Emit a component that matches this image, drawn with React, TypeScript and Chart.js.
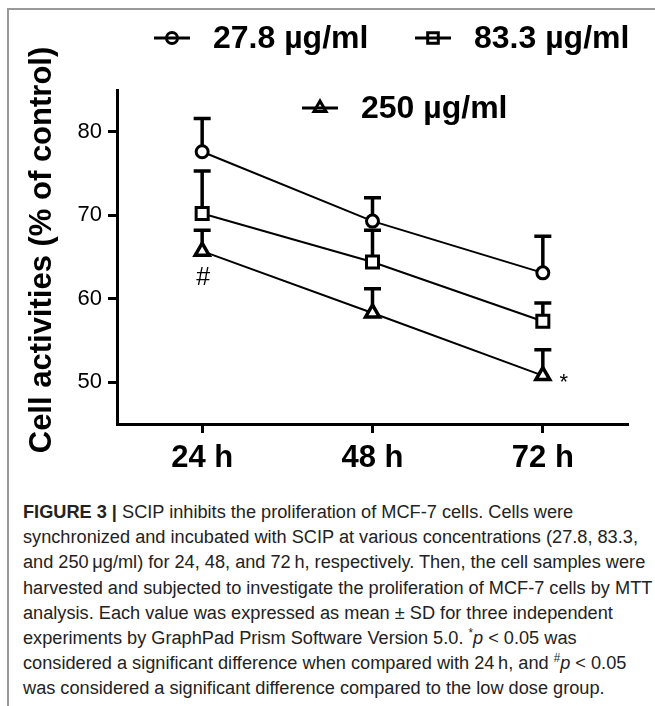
import React, { useEffect, useLayoutEffect, useRef } from "react";
import { Chart, registerables } from "chart.js";

Chart.register(...registerables);

// ---------- data ----------
const timeLabels = ["24 h", "48 h", "72 h"];
const seriesNames = ["27.8 µg/ml", "83.3 µg/ml", "250 µg/ml"];
const mean278 = [77.6, 69.3, 63.1];
const sd278 = [4.0, 2.8, 4.4];
const mean833 = [70.2, 64.4, 57.3];
const sd833 = [5.1, 3.8, 2.2];
const mean250 = [65.7, 58.3, 50.8];
const sd250 = [2.5, 2.9, 3.1];
const yTickValues = [50, 60, 70, 80];
const yMin = 45;
const yMax = 85;
const yAxisTitle = "Cell activities (% of control)";
const significanceMarks = [
  { series: 2, index: 0, text: "#" },
  { series: 2, index: 2, text: "*" },
];

const FONT = '"Liberation Sans", Arial, Helvetica, sans-serif';
const W = 655;
const H = 495;

const pointStyles = ["circle", "rect", "triangle"];
const pointRadii = [6, 8.5, 8];
const pointBorders = [3, 3, 3.5];

// legend layout (style, not data)
const legendLayout = [
  { cx: 172, cy: 38 },
  { cx: 433, cy: 38 },
  { cx: 320, cy: 108 },
];

function drawMarker(ctx: CanvasRenderingContext2D, style: string, x: number, y: number, r: number, bw: number) {
  ctx.save();
  ctx.lineWidth = bw;
  ctx.strokeStyle = "#000";
  ctx.fillStyle = "#fff";
  ctx.beginPath();
  if (style === "circle") {
    ctx.arc(x, y, r, 0, Math.PI * 2);
  } else if (style === "rect") {
    const s = r * Math.SQRT1_2;
    ctx.rect(x - s, y - s, 2 * s, 2 * s);
  } else {
    ctx.moveTo(x, y - r);
    ctx.lineTo(x + r * Math.sin((2 * Math.PI) / 3), y - r * Math.cos((2 * Math.PI) / 3));
    ctx.lineTo(x + r * Math.sin((4 * Math.PI) / 3), y - r * Math.cos((4 * Math.PI) / 3));
    ctx.closePath();
  }
  ctx.fill();
  ctx.stroke();
  ctx.restore();
}

const means = [mean278, mean833, mean250];
const sds = [sd278, sd833, sd250];

const decorPlugin = {
  id: "decor",
  beforeDatasetsDraw(chart: any) {
    const { ctx, scales } = chart;
    const xs = scales.x;
    const ys = scales.y;
    ctx.save();
    ctx.strokeStyle = "#000";
    ctx.lineWidth = 3.5;
    ctx.lineCap = "butt";
    means.forEach((m, si) => {
      m.forEach((v, i) => {
        const x = xs.getPixelForValue(i);
        const y0 = ys.getPixelForValue(v);
        const y1 = ys.getPixelForValue(v + sds[si][i]);
        ctx.beginPath();
        ctx.moveTo(x, y0);
        ctx.lineTo(x, y1);
        ctx.moveTo(x - 8.5, y1);
        ctx.lineTo(x + 8.5, y1);
        ctx.stroke();
      });
    });
    ctx.restore();
  },
  afterDraw(chart: any) {
    const { ctx, scales } = chart;
    const xs = scales.x;
    const ys = scales.y;
    ctx.save();
    // y-axis title
    ctx.translate(42, 250);
    ctx.rotate(-Math.PI / 2);
    ctx.fillStyle = "#000";
    ctx.font = `bold 31px ${FONT}`;
    ctx.textAlign = "center";
    ctx.textBaseline = "middle";
    ctx.fillText(yAxisTitle, 0, 0);
    ctx.restore();

    // legend
    ctx.save();
    legendLayout.forEach((p, si) => {
      drawMarker(ctx, pointStyles[si], p.cx, p.cy, si === 1 ? 7.5 : si === 2 ? 7 : 5.5, 3);
      ctx.strokeStyle = "#000";
      ctx.lineWidth = 3;
      ctx.beginPath();
      ctx.moveTo(p.cx - 18, p.cy);
      ctx.lineTo(p.cx + 18, p.cy);
      ctx.stroke();
      ctx.fillStyle = "#000";
      ctx.font = `bold 32px ${FONT}`;
      ctx.textAlign = "left";
      ctx.textBaseline = "middle";
      ctx.fillText(seriesNames[si], p.cx + 41, p.cy + 1);
    });
    ctx.restore();

    // significance marks
    ctx.save();
    ctx.fillStyle = "#000";
    significanceMarks.forEach((mk) => {
      const x = xs.getPixelForValue(mk.index);
      const y = ys.getPixelForValue(means[mk.series][mk.index]);
      ctx.textAlign = "center";
      ctx.textBaseline = "middle";
      if (mk.text === "#") {
        ctx.font = `25px ${FONT}`;
        ctx.fillText(mk.text, x + 1, y + 27);
      } else {
        ctx.font = `22px ${FONT}`;
        ctx.fillText(mk.text, x + 21, y + 7);
      }
    });
    ctx.restore();
  },
};

function ChartView() {
  const ref = useRef<HTMLCanvasElement | null>(null);
  useEffect(() => {
    if (!ref.current) return;
    const chart = new Chart(ref.current, {
      type: "line",
      data: {
        labels: timeLabels,
        datasets: means.map((m, si) => ({
          label: seriesNames[si],
          data: m,
          borderColor: "#000",
          borderWidth: 2,
          tension: 0,
          fill: false,
          pointStyle: pointStyles[si] as any,
          pointRadius: pointRadii[si],
          pointBorderWidth: pointBorders[si],
          pointBackgroundColor: "#fff",
          pointBorderColor: "#000",
        })),
      },
      options: {
        animation: false,
        responsive: false,
        devicePixelRatio: 1,
        layout: { padding: { top: 90, right: 27, left: 0, bottom: 0 } },
        plugins: { legend: { display: false }, tooltip: { enabled: false }, title: { display: false } },
        scales: {
          x: {
            type: "category",
            offset: true,
            grid: { display: true, drawOnChartArea: false, drawTicks: true, tickLength: 9, tickWidth: 3, tickColor: "#000" },
            border: { display: true, width: 3, color: "#000" },
            ticks: { color: "#000", font: { family: FONT, size: 31, weight: "bold" }, padding: 7, maxRotation: 0 },
            afterFit: (s: any) => {
              s.height = H - 424;
            },
          },
          y: {
            type: "linear",
            min: yMin,
            max: yMax,
            grid: { display: true, drawOnChartArea: false, drawTicks: true, tickLength: 9, tickWidth: 3, tickColor: "#000" },
            border: { display: true, width: 3, color: "#000" },
            ticks: { color: "#000", font: { family: FONT, size: 22 }, padding: 6 },
            afterBuildTicks: (s: any) => {
              s.ticks = yTickValues.map((v) => ({ value: v }));
            },
            afterFit: (s: any) => {
              s.width = 117;
            },
          },
        },
      },
      plugins: [decorPlugin],
    });
    return () => chart.destroy();
  }, []);
  return <canvas ref={ref} width={W} height={H} style={{ position: "absolute", left: 0, top: 0, width: W, height: H }} />;
}

const CAPTION_LEFT = 23;
const CAPTION_RIGHT = 652;

const captionStyle: React.CSSProperties = {
  position: "absolute",
  left: CAPTION_LEFT,
  top: 499,
  fontFamily: FONT,
  fontSize: 18.8,
  lineHeight: "25.2px",
  color: "#222",
  whiteSpace: "nowrap",
  transformOrigin: "0 0",
};

const supStyle: React.CSSProperties = {
  fontSize: 12,
  position: "relative",
  top: -7,
  lineHeight: 0,
};

function Caption() {
  const boxRef = useRef<HTMLDivElement | null>(null);
  const lineRef = useRef<HTMLSpanElement | null>(null);
  useLayoutEffect(() => {
    if (!boxRef.current || !lineRef.current) return;
    const w = lineRef.current.offsetWidth;
    if (w > 0) {
      boxRef.current.style.transform = `scaleX(${(CAPTION_RIGHT - CAPTION_LEFT) / w})`;
    }
  }, []);
  return (
    <div ref={boxRef} style={captionStyle}>
      <div>
        <b>FIGURE 3 |</b> SCIP inhibits the proliferation of MCF-7 cells. Cells were
      </div>
      <div>synchronized and incubated with SCIP at various concentrations (27.8, 83.3,</div>
      <div>and 250{"\u2009"}μg/ml) for 24, 48, and 72{"\u2009"}h, respectively. Then, the cell samples were</div>
      <div>
        <span ref={lineRef}>harvested and subjected to investigate the proliferation of MCF-7 cells by MTT</span>
      </div>
      <div>analysis. Each value was expressed as mean ± SD for three independent</div>
      <div>
        experiments by GraphPad Prism Software Version 5.0. <span style={supStyle}>*</span>
        <i>p</i> &lt; 0.05 was
      </div>
      <div>
        considered a significant difference when compared with 24{"\u2009"}h, and <span style={supStyle}>#</span>
        <i>p</i> &lt; 0.05
      </div>
      <div>was considered a significant difference compared to the low dose group.</div>
    </div>
  );
}

export default function App() {
  return (
    <div style={{ position: "fixed", left: 0, top: 0, width: 655, height: 706, overflow: "hidden", background: "#fff" }}>
      <div style={{ position: "absolute", left: 7, top: 8, width: 648, height: 2, background: "#999" }} />
      <div style={{ position: "absolute", left: 7, top: 8, width: 2, height: 698, background: "#999" }} />
      <ChartView />
      <Caption />
    </div>
  );
}
